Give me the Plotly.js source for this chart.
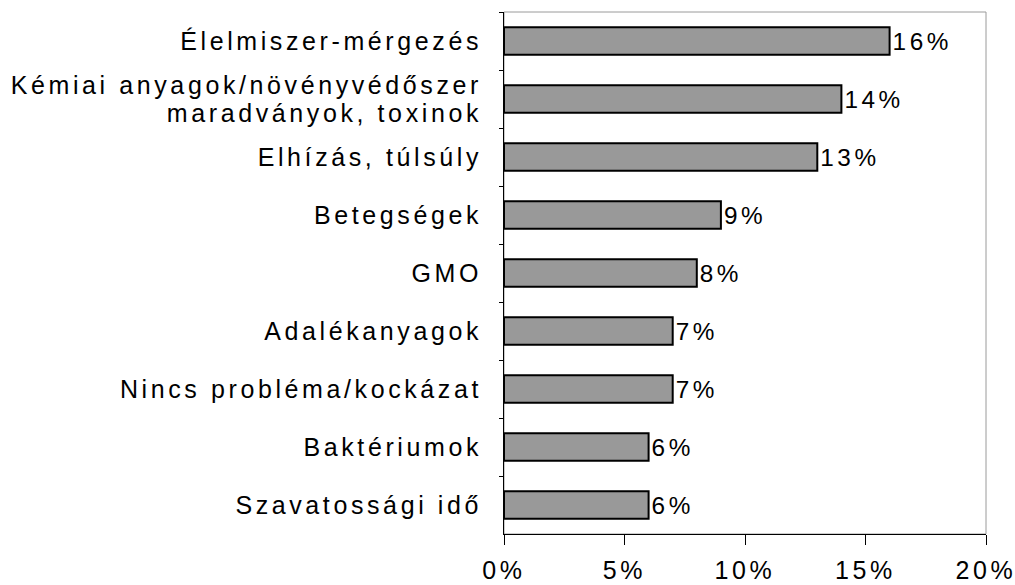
<!DOCTYPE html>
<html>
<head>
<meta charset="utf-8">
<script src="https://cdn.plot.ly/plotly-3.0.1.min.js"></script>
<style>
html, body { margin: 0; padding: 0; background: #fff; }
#chart { width: 1015px; height: 585px; }
svg text { letter-spacing: 3.6px; }
</style>
</head>
<body>
<div id="chart"></div>
<script>
const categories = [
  "Élelmiszer-mérgezés",
  "Kémiai anyagok/növényvédőszer<br>maradványok, toxinok",
  "Elhízás, túlsúly",
  "Betegségek",
  "GMO",
  "Adalékanyagok",
  "Nincs probléma/kockázat",
  "Baktériumok",
  "Szavatossági idő"
];
const values = [16, 14, 13, 9, 8, 7, 7, 6, 6];
const valueLabels = ["16%", "14%", "13%", "9%", "8%", "7%", "7%", "6%", "6%"];
const xTickValues = [0, 5, 10, 15, 20];
const xTickLabels = ["0%", "5%", "10%", "15%", "20%"];

const font = "Liberation Sans, Arial, sans-serif";
const fs = 25;

const trace = {
  type: "bar",
  orientation: "h",
  y: categories,
  x: values,
  text: valueLabels,
  textposition: "outside",
  cliponaxis: false,
  textfont: { family: font, size: fs, color: "#000" },
  marker: { color: "#999999", line: { color: "#000", width: 2 } },
  hoverinfo: "none"
};

const layout = {
  width: 1015,
  height: 585,
  margin: { l: 504, r: 29, t: 12, b: 51, pad: 0 },
  paper_bgcolor: "#fff",
  plot_bgcolor: "#fff",
  showlegend: false,
  bargap: 0.53,
  font: { family: font, size: fs, color: "#000" },
  xaxis: {
    range: [0, 20],
    tickvals: xTickValues,
    ticktext: xTickLabels,
    showgrid: false,
    zeroline: false,
    showline: true,
    linecolor: "#000",
    linewidth: 1,
    ticks: "outside",
    ticklen: 10,
    tickwidth: 1,
    tickcolor: "#000",
    ticklabelstandoff: 4,
    ticklabeloverflow: "allow",
    tickfont: { family: font, size: fs, color: "#000" },
    fixedrange: true
  },
  yaxis: {
    type: "category",
    autorange: "reversed",
    showgrid: false,
    zeroline: false,
    showline: true,
    linecolor: "#000",
    linewidth: 1,
    ticks: "outside",
    ticklen: 4,
    tickwidth: 1,
    tickcolor: "#000",
    tickson: "boundaries",
    ticklabelstandoff: 16,
    tickfont: { family: font, size: fs, color: "#000" },
    fixedrange: true
  },
  shapes: [{
    type: "rect", xref: "paper", yref: "paper",
    x0: 0, x1: 1, y0: 0, y1: 1,
    line: { color: "#9a9a9a", width: 1 },
    layer: "below"
  }]
};

Plotly.newPlot("chart", [trace], layout, { displayModeBar: false, staticPlot: true }).then(function (gd) {
  // tighten line spacing of the two-line category label, keeping it centred
  gd.querySelectorAll(".ytick text").forEach(function (t) {
    const lines = t.querySelectorAll("tspan.line");
    if (lines.length === 2) {
      lines[0].setAttribute("dy", "0.085em");
      lines[1].setAttribute("dy", "1.215em");
    }
  });
});
</script>
</body>
</html>
